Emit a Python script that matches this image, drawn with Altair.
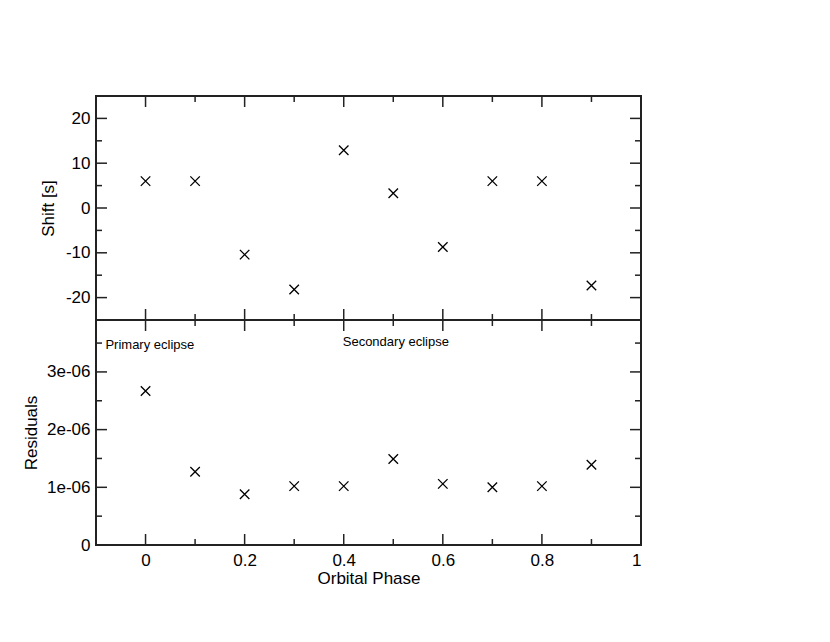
import altair as alt
import pandas as pd

# ---- data ----
phase = [0.0, 0.1, 0.2, 0.3, 0.4, 0.5, 0.6, 0.7, 0.8, 0.9]
shift = [6.0, 6.0, -10.4, -18.2, 12.9, 3.3, -8.7, 6.0, 6.0, -17.3]
residuals = [2.67e-6, 1.27e-6, 0.88e-6, 1.02e-6, 1.02e-6, 1.49e-6, 1.06e-6, 1.0e-6, 1.02e-6, 1.39e-6]

ann_text = ["Primary eclipse", "Secondary eclipse"]
ann_x = [-0.081, 0.398]
ann_y = [3.47e-6, 3.52e-6]

x_major = [0.0, 0.2, 0.4, 0.6, 0.8, 1.0]
x_minor = [0.1, 0.3, 0.5, 0.7, 0.9]
shift_major = [-20, -10, 0, 10, 20]
shift_minor = [-15, -5, 5, 15]
res_major = [0.0, 1e-6, 2e-6, 3e-6]
res_minor = [0.5e-6, 1.5e-6, 2.5e-6, 3.5e-6]

X_DOMAIN = [-0.1, 1.0]
SHIFT_DOMAIN = [-25, 25]
RES_DOMAIN = [0, 3.9e-6]

W, H1, H2 = 545, 224, 225
MAJ, MIN = 11, 6
FONT = "Liberation Sans"
INK = "#222222"

XMARK = "M -1 -1 L 1 1 M -1 1 L 1 -1"

df_top = pd.DataFrame({"phase": phase, "shift": shift})
df_bot = pd.DataFrame({"phase": phase, "res": residuals})
df_ann = pd.DataFrame({"x": ann_x, "y": ann_y, "t": ann_text})

axis_common = dict(ticks=False, tickSize=0, domain=False, grid=False,
                   labelFont=FONT, labelFontSize=17, labelColor="black",
                   titleFont=FONT, titleFontSize=17, titleFontWeight="normal",
                   titleColor="black", labelPadding=6)

x_scale = alt.Scale(domain=X_DOMAIN, nice=False, zero=False)
shift_scale = alt.Scale(domain=SHIFT_DOMAIN, nice=False, zero=False)
res_scale = alt.Scale(domain=RES_DOMAIN, nice=False, zero=False)

shift_axis = alt.Axis(values=shift_major, title="Shift [s]", titlePadding=8,
                      labelExpr="'' + datum.value", **axis_common)
res_axis = alt.Axis(values=res_major, title="Residuals", titlePadding=6,
                    labelExpr="datum.value == 0 ? '0' : (round(datum.value * 1e6) + 'e-06')",
                    **axis_common)
xbot_axis = alt.Axis(values=x_major, format=".1~f", title="Orbital Phase",
                     titlePadding=2, labelAngle=0, **{**axis_common, "labelPadding": 7})


def tick_layers(x_axis, y_scale, y_axis, ymaj, ymin, H):
    layers = []
    for vals, ln in ((x_major, MAJ), (x_minor, MIN)):
        d = pd.DataFrame({"v": vals})
        base = alt.Chart(d).mark_rule(color=INK, strokeWidth=1.5)
        xe = alt.X("v:Q", scale=x_scale, axis=x_axis)
        layers.append(base.encode(x=xe, y=alt.value(0), y2=alt.value(ln)))
        layers.append(base.encode(x=xe, y=alt.value(H), y2=alt.value(H - ln)))
    for vals, ln in ((ymaj, MAJ), (ymin, MIN)):
        d = pd.DataFrame({"v": vals})
        base = alt.Chart(d).mark_rule(color=INK, strokeWidth=1.5)
        ye = alt.Y("v:Q", scale=y_scale, axis=y_axis)
        layers.append(base.encode(y=ye, x=alt.value(0), x2=alt.value(ln)))
        layers.append(base.encode(y=ye, x=alt.value(W), x2=alt.value(W - ln)))
    return layers


top_points = alt.Chart(df_top).mark_point(
    shape=XMARK, filled=False, color="black", strokeWidth=1.3, size=90, opacity=1
).encode(
    x=alt.X("phase:Q", scale=x_scale, axis=None),
    y=alt.Y("shift:Q", scale=shift_scale, axis=shift_axis),
)

top = alt.layer(top_points,
                *tick_layers(None, shift_scale, shift_axis, shift_major, shift_minor, H1)
                ).properties(width=W, height=H1)

bot_points = alt.Chart(df_bot).mark_point(
    shape=XMARK, filled=False, color="black", strokeWidth=1.3, size=90, opacity=1
).encode(
    x=alt.X("phase:Q", scale=x_scale, axis=xbot_axis),
    y=alt.Y("res:Q", scale=res_scale, axis=res_axis),
)

bot_text = alt.Chart(df_ann).mark_text(
    align="left", baseline="middle", font=FONT, fontSize=13, color="black"
).encode(
    x=alt.X("x:Q", scale=x_scale, axis=xbot_axis),
    y=alt.Y("y:Q", scale=res_scale, axis=res_axis),
    text="t:N",
)

bot = alt.layer(bot_points, bot_text,
                *tick_layers(xbot_axis, res_scale, res_axis, res_major, res_minor, H2)
                ).properties(width=W, height=H2)

chart = alt.vconcat(top, bot, spacing=0, bounds="flush").properties(
    padding={"left": 13, "top": 86, "right": 5, "bottom": 5},
    background="white",
).configure_view(stroke=INK, strokeWidth=2)

chart.save("out.html", embed_options={"renderer": "svg", "actions": False})
